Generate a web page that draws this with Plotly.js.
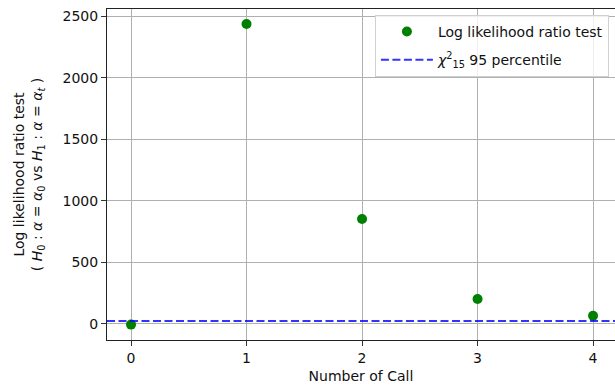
<!DOCTYPE html>
<html>
<head>
<meta charset="utf-8">
<script src="https://cdn.plot.ly/plotly-3.0.1.min.js"></script>
<style>
  html, body { margin: 0; padding: 0; background: #fff; }
  #chart { width: 615px; height: 386px; }
</style>
</head>
<body>
<div id="chart"></div>
<script>
// Likelihood ratio statistic for each call
const calls = [0, 1, 2, 3, 4];
const lrStat = [-5, 2435, 852, 203, 67];
// 95th percentile of the chi-square distribution with 15 degrees of freedom
const chi2Threshold = 25.0;

const yTicks = [0, 500, 1000, 1500, 2000, 2500];
const xRange = [-0.208, 4.19];
const yRange = [-130, 2557];

const font = "DejaVu Sans, sans-serif";

const traces = [
  {
    x: calls,
    y: lrStat,
    type: "scatter",
    mode: "markers",
    name: "Log likelihood ratio test",
    legendgroup: "stat",
    marker: { color: "green", size: 10 },
    cliponaxis: false
  },
  {
    x: xRange,
    y: [chi2Threshold, chi2Threshold],
    type: "scatter",
    mode: "lines",
    name: "<i>χ</i><sup>2</sup><sub>15</sub> 95 percentile",
    legendgroup: "threshold",
    line: { color: "rgba(0,0,255,0.8)", width: 2, dash: "8px,3.5px" }
  }
];

const layout = {
  width: 615,
  height: 386,
  margin: { l: 107, r: 0, t: 9, b: 46 },
  paper_bgcolor: "#fff",
  plot_bgcolor: "#fff",
  font: { family: font, size: 14, color: "#111" },
  showlegend: true,
  legend: {
    x: 0.988, xanchor: "right",
    y: 0.982, yanchor: "top",
    bgcolor: "rgba(255,255,255,0.8)",
    bordercolor: "#d0d0d0",
    borderwidth: 1,
    font: { family: font, size: 14, color: "#111" },
    tracegroupgap: 7,
    itemwidth: 52
  },
  xaxis: {
    range: xRange,
    tickvals: calls,
    ticktext: calls.map(String),
    ticks: "outside",
    ticklen: 5,
    tickcolor: "#333",
    showline: true,
    mirror: true,
    linecolor: "#222",
    linewidth: 1,
    showgrid: true,
    gridcolor: "#b0b0b0",
    gridwidth: 1,
    zeroline: false,
    tickfont: { family: font, size: 14 },
    title: { text: "Number of Call", standoff: 6, font: { family: font, size: 14 } }
  },
  yaxis: {
    range: yRange,
    tickvals: yTicks,
    ticktext: yTicks.map(String),
    ticks: "outside",
    ticklen: 5,
    tickcolor: "#333",
    showline: true,
    mirror: false,
    linecolor: "#222",
    linewidth: 1,
    showgrid: true,
    gridcolor: "#b0b0b0",
    gridwidth: 1,
    zeroline: false,
    tickfont: { family: font, size: 14 },
    title: {
      text: "Log likelihood ratio test<br>( <i>H</i><sub>0</sub> : <i>α</i> = <i>α</i><sub>0</sub> vs <i>H</i><sub>1</sub> : <i>α</i> = <i>α</i><sub><i>t</i></sub> )",
      standoff: 16,
      font: { family: font, size: 14 }
    }
  }
};

Plotly.newPlot("chart", traces, layout, { displayModeBar: false, staticPlot: true });
</script>
</body>
</html>
